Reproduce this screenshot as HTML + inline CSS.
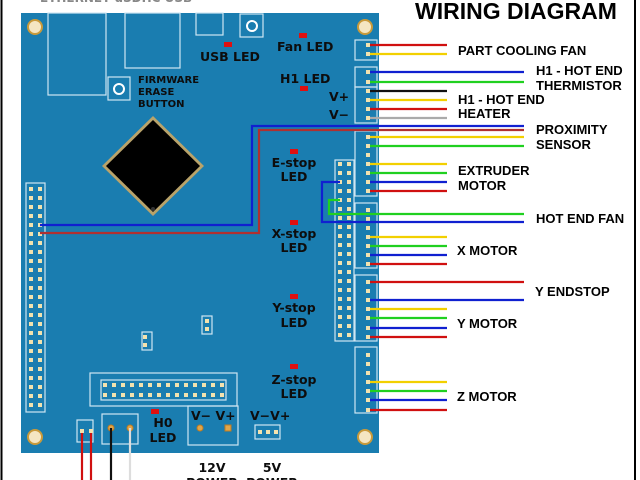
<!DOCTYPE html>
<html><head><meta charset="utf-8"><style>
html,body{margin:0;padding:0;background:#fff;}
svg{display:block}
.b{font-family:"DejaVu Sans","Liberation Sans",sans-serif;font-weight:bold;fill:#0d0d0d;}
.r{font-family:"Liberation Sans",sans-serif;font-weight:bold;fill:#000;font-size:13px;}
</style></head><body>
<svg width="640" height="480" viewBox="0 0 640 480" xmlns="http://www.w3.org/2000/svg">
<rect x="0" y="0" width="640" height="480" fill="#fff"/>
<line x1="1.5" y1="0" x2="1.5" y2="480" stroke="#000" stroke-width="2"/>
<line x1="635" y1="0" x2="635" y2="480" stroke="#000" stroke-width="2"/>
<text x="40" y="2" font-family="DejaVu Sans" font-weight="bold" font-size="12" fill="#888">ETHERNET    uSDHC    USB</text>
<rect x="21" y="13" width="358" height="440" fill="#1a7db0"/>
<g fill="#f4e6c2" stroke="#c99a3a" stroke-width="2">
<circle cx="35" cy="27" r="7"/><circle cx="365" cy="27" r="7"/><circle cx="35" cy="437" r="7"/><circle cx="365" cy="437" r="7"/>
</g>
<g fill="none" stroke="#cfe6f2" stroke-width="1.2">
<rect x="48" y="13" width="58" height="82"/>
<rect x="125" y="13" width="55" height="55"/>
<rect x="196" y="13" width="27" height="22"/>
<rect x="240" y="14" width="23" height="23"/>
<rect x="108" y="77" width="22" height="23"/>
<rect x="26" y="183" width="19" height="229"/>
<rect x="335" y="160" width="19" height="181"/>
<rect x="90" y="373" width="147" height="33"/>
<rect x="101" y="380" width="125" height="20"/>
<rect x="77" y="420" width="16" height="22"/>
<rect x="102" y="414" width="36" height="30"/>
<rect x="188" y="406" width="50" height="39"/>
<rect x="255" y="425" width="25" height="14"/>
<rect x="355" y="40" width="22" height="20"/>
<rect x="355" y="67" width="22" height="20"/>
<rect x="355" y="87" width="22" height="36"/>
<rect x="355" y="131" width="22" height="65"/>
<rect x="355" y="203" width="22" height="65"/>
<rect x="355" y="275" width="22" height="66"/>
<rect x="355" y="347" width="22" height="66"/>
<rect x="142" y="332" width="10" height="18"/>
<rect x="202" y="316" width="10" height="18"/>
</g>
<circle cx="252" cy="26" r="5" fill="none" stroke="#fff" stroke-width="2"/>
<circle cx="119" cy="89" r="5" fill="none" stroke="#fff" stroke-width="2"/>
<polygon points="153,116 204,166 153,216 102,166" fill="#b9a36a"/>
<polygon points="153,120 200,166 153,212 106,166" fill="#000"/>
<circle cx="153" cy="209" r="2" fill="#333"/>
<g id="pins" fill="#f3e2ae"></g>
<g fill="#e01010">
<rect x="299" y="33" width="8" height="5"/><rect x="224" y="42" width="8" height="5"/><rect x="300" y="86" width="8" height="5"/>
<rect x="290" y="149" width="8" height="5"/><rect x="290" y="220" width="8" height="5"/><rect x="290" y="294" width="8" height="5"/>
<rect x="290" y="364" width="8" height="5"/><rect x="151" y="409" width="8" height="5"/>
</g>
<g class="b" font-size="12.5">
<text x="277" y="51">Fan LED</text>
<text x="200" y="61">USB LED</text>
<text x="280" y="83">H1 LED</text>
<text x="329" y="101">V+</text>
<text x="329" y="119">V−</text>
<text x="294" y="167" text-anchor="middle">E-stop</text><text x="294" y="181" text-anchor="middle">LED</text>
<text x="294" y="238" text-anchor="middle">X-stop</text><text x="294" y="252" text-anchor="middle">LED</text>
<text x="294" y="312" text-anchor="middle">Y-stop</text><text x="294" y="327" text-anchor="middle">LED</text>
<text x="294" y="384" text-anchor="middle">Z-stop</text><text x="294" y="398" text-anchor="middle">LED</text>
<text x="163" y="427" text-anchor="middle">H0</text><text x="163" y="442" text-anchor="middle">LED</text>
<text x="191" y="420">V−  V+</text>
<text x="250" y="420">V−V+</text>
<text x="212" y="472" text-anchor="middle">12V</text><text x="212" y="487" text-anchor="middle">POWER</text>
<text x="272" y="472" text-anchor="middle">5V</text><text x="272" y="487" text-anchor="middle">POWER</text>
<text x="45" y="489">H0 - BED</text><text x="110" y="489">H0 - BED</text>
</g>
<g class="b" font-size="10">
<text x="138" y="83">FIRMWARE</text><text x="138" y="95">ERASE</text><text x="138" y="107">BUTTON</text>
</g>
<g fill="#e0a64a" stroke="#c07c20"><circle cx="200" cy="428" r="3"/><rect x="225" y="425" width="6" height="6"/>
<circle cx="111" cy="428" r="3"/><circle cx="130" cy="428" r="3"/></g>
<g stroke-width="2.2" fill="none">
<path d="M370 45H447" stroke="#d01010"/><path d="M370 54H447" stroke="#f2d000"/>
<path d="M370 72H524" stroke="#1020d0"/><path d="M370 82H524" stroke="#20d020"/>
<path d="M370 91H447" stroke="#111"/><path d="M370 100H447" stroke="#f2d000"/><path d="M370 109H447" stroke="#d01010"/><path d="M370 118H447" stroke="#aaa"/>
<path d="M40 225H252V126H524" stroke="#1020d0"/><path d="M40 233H259V130H524" stroke="#b03030"/>
<path d="M370 137H524" stroke="#f2d000"/><path d="M370 146H524" stroke="#20d020"/>
<path d="M370 164H447" stroke="#f2d000"/><path d="M370 173H447" stroke="#20d020"/><path d="M370 182H447" stroke="#1020d0"/><path d="M370 191H447" stroke="#d01010"/>
<path d="M340 182H322V222H524" stroke="#1020d0"/><path d="M340 200H329V214H524" stroke="#20d020"/>
<path d="M370 237H447" stroke="#f2d000"/><path d="M370 246H447" stroke="#20d020"/><path d="M370 255H447" stroke="#1020d0"/><path d="M370 264H447" stroke="#d01010"/>
<path d="M370 282H524" stroke="#d01010"/><path d="M370 300H524" stroke="#1020d0"/>
<path d="M370 309H447" stroke="#f2d000"/><path d="M370 318H447" stroke="#20d020"/><path d="M370 328H447" stroke="#1020d0"/><path d="M370 337H447" stroke="#d01010"/>
<path d="M370 382H447" stroke="#f2d000"/><path d="M370 391H447" stroke="#20d020"/><path d="M370 400H447" stroke="#1020d0"/><path d="M370 410H447" stroke="#d01010"/>
<path d="M82 433V480" stroke="#d01010"/><path d="M91 433V480" stroke="#d01010"/>
<path d="M111 428V480" stroke="#111"/><path d="M130 428V480" stroke="#ddd"/>
</g>
<g class="r">
<text x="458" y="55">PART COOLING FAN</text>
<text x="536" y="75">H1 - HOT END</text><text x="536" y="90">THERMISTOR</text>
<text x="458" y="104">H1 - HOT END</text><text x="458" y="118">HEATER</text>
<text x="536" y="134">PROXIMITY</text><text x="536" y="149">SENSOR</text>
<text x="458" y="175">EXTRUDER</text><text x="458" y="190">MOTOR</text>
<text x="536" y="223">HOT END FAN</text>
<text x="457" y="255">X MOTOR</text>
<text x="535" y="296">Y ENDSTOP</text>
<text x="457" y="328">Y MOTOR</text>
<text x="457" y="401">Z MOTOR</text>
</g>
<text x="415" y="19" font-family="Liberation Sans" font-weight="bold" font-size="23" fill="#000">WIRING DIAGRAM</text>
</svg>
<script>
(function(){
var g=document.getElementById('pins'),ns='http://www.w3.org/2000/svg';
function p(x,y){var c=document.createElementNS(ns,'rect');c.setAttribute('x',x-2);c.setAttribute('y',y-2);c.setAttribute('width',4);c.setAttribute('height',4);c.setAttribute('fill','#f3e2ae');g.appendChild(c);}
for(var y=189;y<410;y+=9){p(31,y);p(40,y);}
for(var y=164;y<340;y+=9){p(340,y);p(349,y);}
for(var x=105;x<225;x+=9){p(x,385);p(x,395);}
var ys=[45,54,72,82,91,100,109,118,137,146,155,164,173,182,191,210,219,228,237,246,255,264,282,291,300,309,318,328,337,355,364,373,382,391,400,410];
ys.forEach(function(y){p(368,y);});
p(82,431);p(91,431);p(260,432);p(268,432);p(276,432);p(145,337);p(145,345);p(207,321);p(207,329);
})();
</script>
</body></html>
